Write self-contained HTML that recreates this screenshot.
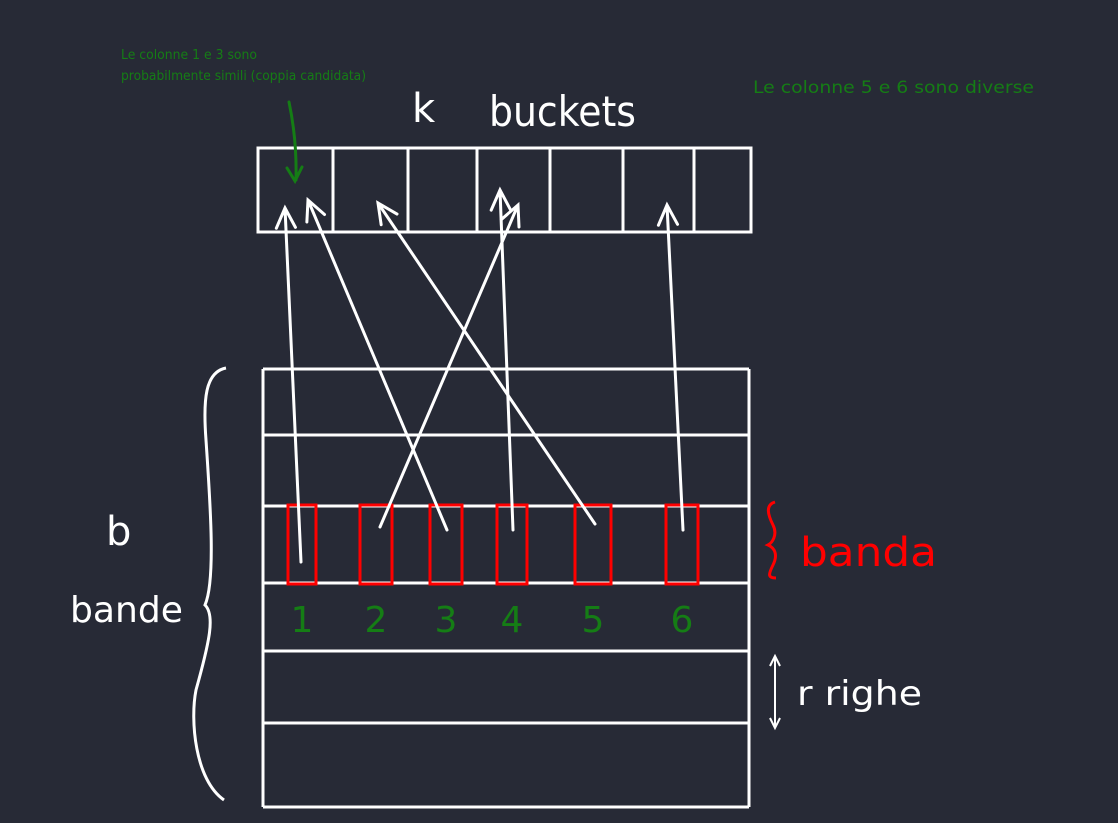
<!DOCTYPE html>
<html><head><meta charset="utf-8"><style>
html,body{margin:0;padding:0;background:#272a36;}
svg{display:block}
text{font-family:"DejaVu Sans","Liberation Sans",sans-serif}
</style></head><body>
<svg width="1118" height="823" viewBox="0 0 1118 823">
<rect width="1118" height="823" fill="#272a36"/>
<g id="buckets" stroke="#fff" stroke-width="3" fill="none"></g>
<g id="table" stroke="#fff" stroke-width="3" fill="none"></g>
<g id="reds" stroke="#ff0000" stroke-width="3" fill="none"></g>
<g id="arrows" stroke="#fff" stroke-width="3" fill="none" stroke-linecap="round"></g>
<g id="nums"></g>

<text x="121" y="59" font-size="13" fill="#157d15" textLength="136" lengthAdjust="spacingAndGlyphs">Le colonne 1 e 3 sono</text>
<text x="121" y="80" font-size="13" fill="#157d15" textLength="245" lengthAdjust="spacingAndGlyphs">probabilmente simili (coppia candidata)</text>
<text x="753" y="93" font-size="17" fill="#157d15" textLength="281" lengthAdjust="spacingAndGlyphs">Le colonne 5 e 6 sono diverse</text>
<path d="M289 102 Q297 140 296 180 M287 168 L295 181 L302 167" stroke="#157d15" stroke-width="3" fill="none" stroke-linecap="round"/>

<text x="412" y="122" font-size="40" fill="#fff">k</text>
<text x="489" y="126" font-size="42" fill="#fff" textLength="147" lengthAdjust="spacingAndGlyphs">buckets</text>

<text x="106" y="545" font-size="40" fill="#fff">b</text>
<text x="70" y="622" font-size="36" fill="#fff" textLength="113" lengthAdjust="spacingAndGlyphs">bande</text>
<path d="M226 368 C205 372 203 400 206 440 C210 500 216 580 205 605 C215 615 210 640 196 690 C190 720 195 780 224 800" stroke="#fff" stroke-width="3" fill="none"/>

<path d="M775 502 C765 505 768 515 773 525 C778 535 772 543 768 545 C775 548 778 555 773 565 C768 575 768 578 776 578" stroke="#ff0000" stroke-width="3" fill="none"/>
<text x="800" y="566" font-size="40" fill="#ff0000" textLength="137" lengthAdjust="spacingAndGlyphs">banda</text>

<path d="M775 658 L775 728 M770 666 L775 656 L780 666 M770 718 L775 728 L780 718" stroke="#fff" stroke-width="2" fill="none"/>
<text x="797" y="705" font-size="34" fill="#fff" textLength="125" lengthAdjust="spacingAndGlyphs">r righe</text>

<script>
const ns="http://www.w3.org/2000/svg";
const bucketDividers=[333,408,477,550,623,694];
const rowLines=[369,435,506,583,651,723,807];
const columnLabels=["1","2","3","4","5","6"];
const redLeft=[288,360,430,497,575,666];
const redRight=[316,392,462,527,611,698];
const arrowFrom=[[301,562],[380,527],[447,530],[513,530],[595,524],[683,530]];
const arrowTo=[[285,208],[518,205],[308,200],[500,190],[378,203],[667,205]];
function mk(t,a,p){const e=document.createElementNS(ns,t);for(const k in a)e.setAttribute(k,a[k]);p.appendChild(e);return e;}
const B=document.getElementById('buckets');
let r=mk('rect',{x:258,y:148,width:493,height:84},B);


bucketDividers.forEach(x=>{const l=mk('line',{x1:x,y1:148,x2:x,y2:232},B);

});
const T=document.getElementById('table');
let l1=mk('line',{x1:263,y1:369,x2:263,y2:807},T);


let l2=mk('line',{x1:749,y1:369,x2:749,y2:807},T);


rowLines.forEach(y=>{const l=mk('line',{x1:263,y1:y,x2:749,y2:y},T);

});
const R=document.getElementById('reds'),N=document.getElementById('nums'),A=document.getElementById('arrows');
columnLabels.forEach((c,i)=>{
 const rr=mk('rect',{x:redLeft[i],y:505,width:redRight[i]-redLeft[i],height:79},R);
 
 
 const t=mk('text',{x:(redLeft[i]+redRight[i])/2,y:632,'font-size':36,fill:'#157d15','text-anchor':'middle'},N);
 t.textContent=c;
 
 
 const [x1,y1]=arrowFrom[i],[x2,y2]=arrowTo[i];
 const ang=Math.atan2(y2-y1,x2-x1),h=22,s=0.45;
 const d=`M${x1} ${y1} L${x2} ${y2} M${x2-h*Math.cos(ang-s)} ${y2-h*Math.sin(ang-s)} L${x2} ${y2} L${x2-h*Math.cos(ang+s)} ${y2-h*Math.sin(ang+s)}`;
 const p=mk('path',{d:d},A);
 
 
});
</script>
</svg>
</body></html>
